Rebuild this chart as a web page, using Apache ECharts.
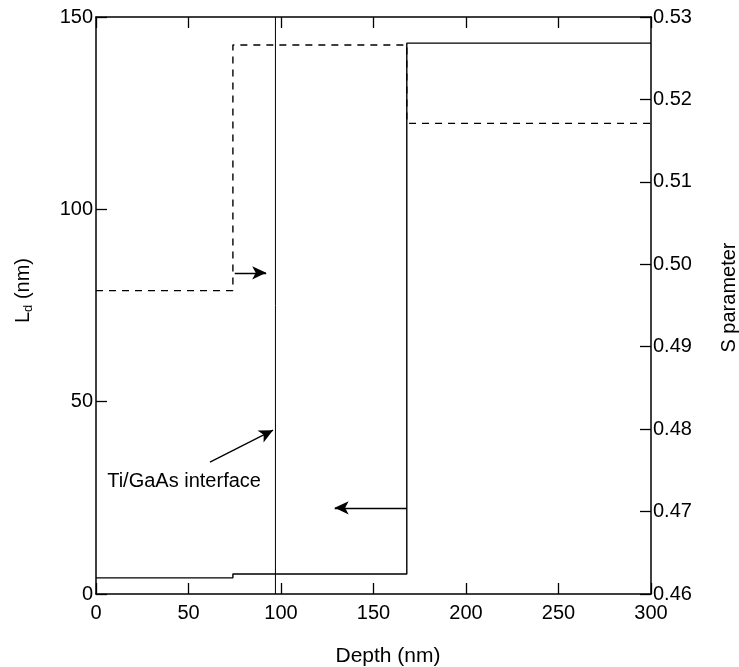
<!DOCTYPE html>
<html>
<head>
<meta charset="utf-8" />
<script src="https://cdn.jsdelivr.net/npm/echarts@6/dist/echarts.min.js"></script>
<style>
  html, body { margin: 0; padding: 0; background: #fff; }
  #chart { width: 739px; height: 667px; }
</style>
</head>
<body>
<div id="chart"></div>
<script>
// solid step: diffusion length L_d (left axis)
var ldDepth = [0, 74, 168, 300];
var ldValue = [4.2, 5.2, 143.2, 143.2];
// dashed step: S parameter (right axis)
var sDepth = [0, 74, 168, 300];
var sValue = [0.4968, 0.5266, 0.5171, 0.5171];
// Ti/GaAs interface depth
var interfaceDepth = 97;
// arrows [fromDepth, fromLd, toDepth, toLd]
var arrows = [
  [75, 83.5, 92, 83.5],
  [168, 22.4, 129, 22.4],
  [61.6, 34.3, 95.7, 42.6]
];
var noteText = "Ti/GaAs interface";
var notePos = [47.6, 29.2];

var FONT = "Liberation Sans";
var targetdiv = document.getElementById("chart");
let myChart = echarts.init(targetdiv);

var axisLineStyle = { color: "#000", width: 1.5 };
var tickStyle = { inside: true, length: 11, lineStyle: { color: "#000", width: 1.3 } };

let option = {
  animation: false,
  backgroundColor: "#fff",
  grid: { left: 96, right: 88, top: 17, bottom: 73, outerBoundsMode: "none" },
  xAxis: [
    {
      type: "value",
      min: 0,
      max: 300,
      interval: 50,
      name: "Depth (nm)",
      nameLocation: "middle",
      nameGap: 52,
      nameTextStyle: { fontFamily: FONT, fontSize: 21, color: "#000", padding: [0, 0, 0, 29] },
      axisLine: { onZero: false, lineStyle: axisLineStyle },
      axisTick: tickStyle,
      axisLabel: { fontFamily: FONT, fontSize: 20, color: "#000", margin: 9 },
      splitLine: { show: false },
    },
    {
      type: "value",
      position: "top",
      min: 0,
      max: 300,
      interval: 50,
      axisLine: { onZero: false, lineStyle: axisLineStyle },
      axisTick: tickStyle,
      axisLabel: { show: false },
      splitLine: { show: false },
    },
  ],
  yAxis: [
    {
      type: "value",
      min: 0,
      max: 150,
      interval: 50,
      name: "{l|L}{d|d}{l| (nm)}",
      nameLocation: "middle",
      nameGap: 61,
      nameTextStyle: {
        color: "#000",
        padding: [0, 0, 0, 30],
        rich: {
          l: { fontFamily: FONT, fontSize: 20, lineHeight: 24, color: "#000" },
          d: { fontFamily: FONT, fontSize: 13, lineHeight: 13, verticalAlign: "bottom", color: "#000" },
        },
      },
      axisLine: { show: true, onZero: false, lineStyle: axisLineStyle },
      axisTick: tickStyle,
      axisLabel: { fontFamily: FONT, fontSize: 20, color: "#000", margin: 3 },
      splitLine: { show: false },
    },
    {
      type: "value",
      position: "right",
      min: 0.46,
      max: 0.53,
      interval: 0.01,
      name: "S parameter",
      nameLocation: "middle",
      nameRotate: 90,
      nameGap: 68,
      nameTextStyle: { fontFamily: FONT, fontSize: 20, color: "#000", padding: [0, 0, 0, 16] },
      axisLine: { show: true, onZero: false, lineStyle: axisLineStyle },
      axisTick: tickStyle,
      axisLabel: {
        fontFamily: FONT,
        fontSize: 20,
        color: "#000",
        margin: 2,
        formatter: function (v) {
          return v.toFixed(2);
        },
      },
      splitLine: { show: false },
    },
  ],
  series: [
    {
      name: "Ld",
      type: "line",
      step: "end",
      yAxisIndex: 0,
      symbol: "none",
      lineStyle: { color: "#000", width: 1.4 },
      data: ldDepth.map((d, i) => [d, ldValue[i]]),
    },
    {
      name: "S",
      type: "line",
      step: "end",
      yAxisIndex: 1,
      symbol: "none",
      lineStyle: { color: "#000", width: 1.4, type: [7, 6] },
      data: sDepth.map((d, i) => [d, sValue[i]]),
    },
    {
      name: "interface",
      type: "line",
      yAxisIndex: 0,
      symbol: "none",
      lineStyle: { color: "#000", width: 1 },
      data: [
        [interfaceDepth, 0],
        [interfaceDepth, 150],
      ],
      markLine: {
        silent: true,
        symbol: ["none", "arrow"],
        symbolSize: [10, 14],
        label: { show: false },
        lineStyle: { color: "#000", width: 1.3, type: "solid" },
        data: arrows.map((a) => [{ coord: [a[0], a[1]] }, { coord: [a[2], a[3]] }]),
      },
      markPoint: {
        silent: true,
        symbol: "rect",
        symbolSize: 1,
        itemStyle: { color: "rgba(0,0,0,0)" },
        label: {
          show: true,
          position: "inside",
          formatter: noteText,
          fontFamily: FONT,
          fontSize: 20,
          color: "#000",
        },
        data: [{ coord: notePos }],
      },
    },
  ],
};
myChart.setOption(option);
</script>
</body>
</html>
